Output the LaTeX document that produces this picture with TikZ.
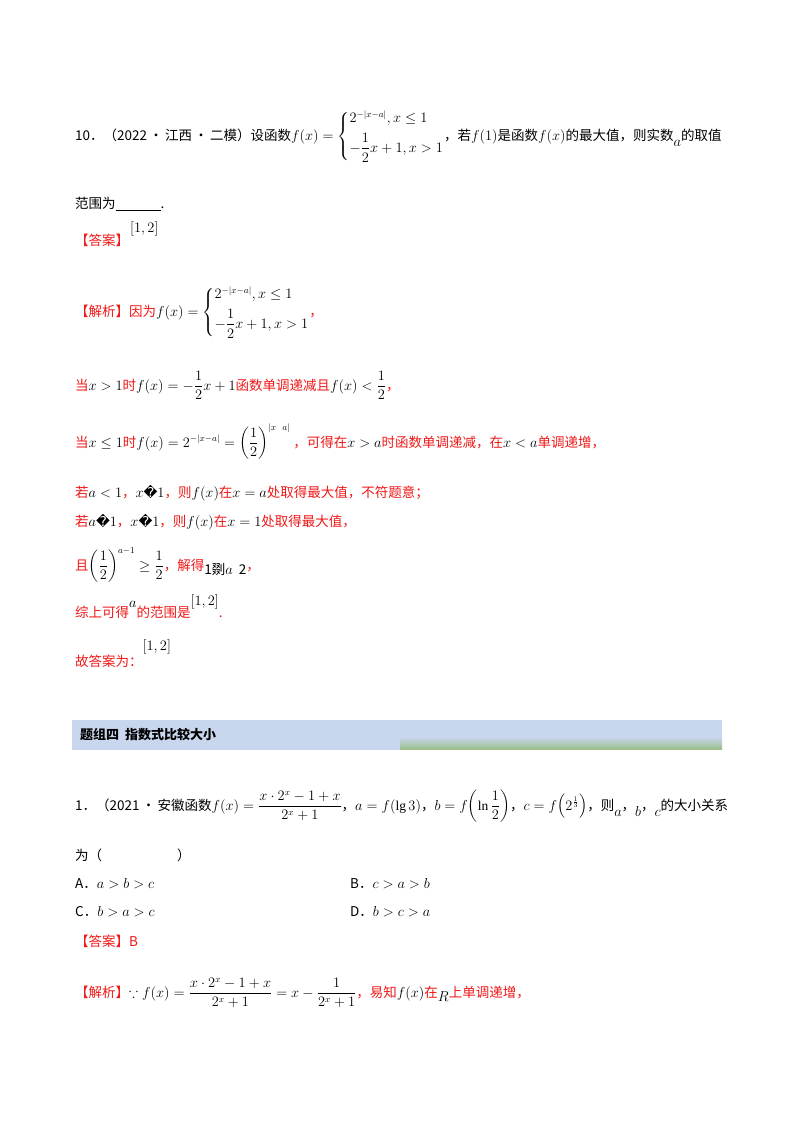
\documentclass[tikz,border=0pt]{standalone}
\usepackage{amsmath,amssymb}
\usepackage{fontspec}
\setmainfont{Liberation Serif}
\newfontfamily\cjk{Noto Sans CJK SC}
\newfontfamily\dv{DejaVu Sans}
\newcommand{\pwf}{\left\{\begin{array}{@{}l@{}}2^{-|x-a|},x\le1\\[6pt]-\dfrac12x+1,x>1\end{array}\right.}
\begin{document}
\begin{tikzpicture}[x=1pt,y=-1pt,
  txt/.style={anchor=base west,inner sep=0pt,font=\fontsize{13.5}{16}\selectfont\cjk},
  red/.style={txt,text=ansred},
  hd/.style={anchor=base west,inner sep=0pt,font=\fontsize{13}{16}\selectfont\cjk\bfseries}]
\definecolor{ansred}{HTML}{F01818}
\definecolor{band}{HTML}{C8D6EE}
\definecolor{bandg}{HTML}{9CC08A}
\useasboundingbox (0,0) rectangle (800,1132);
\fill[white] (0,0) rectangle (800,1132);
% Q10
\node[txt] (q1) at (75,140) {10．（2022\,•\,江西\,•\,二模）设函数$f\!\left(x\right)=\pwf$，若$f\!\left(1\right)$是函数$f\!\left(x\right)$的最大值，则实数\raisebox{-6pt}{$a$}的取值};
\node[txt] (q2) at (75,208) {范围为\underline{\hspace{45pt}}.};
\node[red] (ans) at (75,245) {【答案】};
\node[txt] (ans2) at (130,232) {$[1,2]$};
\node[red] (jx) at (75,316) {【解析】因为\textcolor{black}{$f\!\left(x\right)=\pwf$}，};
\node[red] (l1) at (75,390) {当\textcolor{black}{$x>1$}时\textcolor{black}{$f\!\left(x\right)=-\dfrac12x+1$}函数单调递减且\textcolor{black}{$f\!\left(x\right)<\dfrac12$}，};
\node[red] (l2) at (75,447) {当\textcolor{black}{$x\le1$}时\textcolor{black}{$f\!\left(x\right)=2^{-|x-a|}=\left(\dfrac12\right)^{|x\ \ a|}$}\ ，可得在\textcolor{black}{$x>a$}时函数单调递减，在\textcolor{black}{$x<a$}单调递增，};
\node[red] (l3) at (75,497) {若\textcolor{black}{$a<1$}，\textcolor{black}{$x${\dv �}$1$}，则\textcolor{black}{$f(x)$}在\textcolor{black}{$x=a$}处取得最大值，不符题意；};
\node[red] (l4) at (75,526) {若\textcolor{black}{$a${\dv �}$1$}，\textcolor{black}{$x${\dv �}$1$}，则\textcolor{black}{$f(x)$}在\textcolor{black}{$x=1$}处取得最大值，};
\node[red] (l5) at (75,570) {且\textcolor{black}{$\left(\dfrac12\right)^{a-1}\ge\dfrac12$}，解得\textcolor{black}{\raisebox{-4pt}{1{\cjk 剟}$a$\ \ 2}}，};
\node[red] (l6) at (75,617) {综上可得\textcolor{black}{\raisebox{10pt}{$a$}}的范围是\textcolor{black}{\raisebox{12pt}{$[1,2]$}}.};
\node[red] (l7) at (75,666) {故答案为：\textcolor{black}{\raisebox{16pt}{$[1,2]$}}};
% banner
\fill[band] (72,720) rectangle (722,750);
\shade[top color=band, bottom color=bandg] (400,737) rectangle (722,749);
\node[hd] (h) at (80,739) {题组四\hspace{6pt}指数式比较大小};
% Q1
\node[txt] (p1) at (75,810) {1．（2021\,•\,安徽函数$f(x)=\dfrac{x\cdot2^x-1+x}{2^x+1}$，$a=f(\lg3)$，$b=f\!\left(\ln\dfrac12\right)$，$c=f\!\left(2^{\frac13}\right)$，则\raisebox{-6pt}{$a$}，\raisebox{-6pt}{$b$}，\raisebox{-6pt}{$c$}的大小关系};
\node[txt] (p2) at (75,860) {为（\hspace{75pt}）};
\node[txt] (oa) at (75,888) {A．$a>b>c$};
\node[txt] (ob) at (350,888) {B．$c>a>b$};
\node[txt] (oc) at (75,916) {C．$b>a>c$};
\node[txt] (od) at (350,916) {D．$b>c>a$};
\node[red] (an) at (75,946) {【答案】B};
\node[red] (jx2) at (75,997) {【解析】\textcolor{black}{$\because f(x)=\dfrac{x\cdot2^x-1+x}{2^x+1}=x-\dfrac{1}{2^x+1}$}，易知\textcolor{black}{$f(x)$}在\textcolor{black}{\raisebox{-4pt}{$R$}}上单调递增，};
\end{tikzpicture}
\end{document}
